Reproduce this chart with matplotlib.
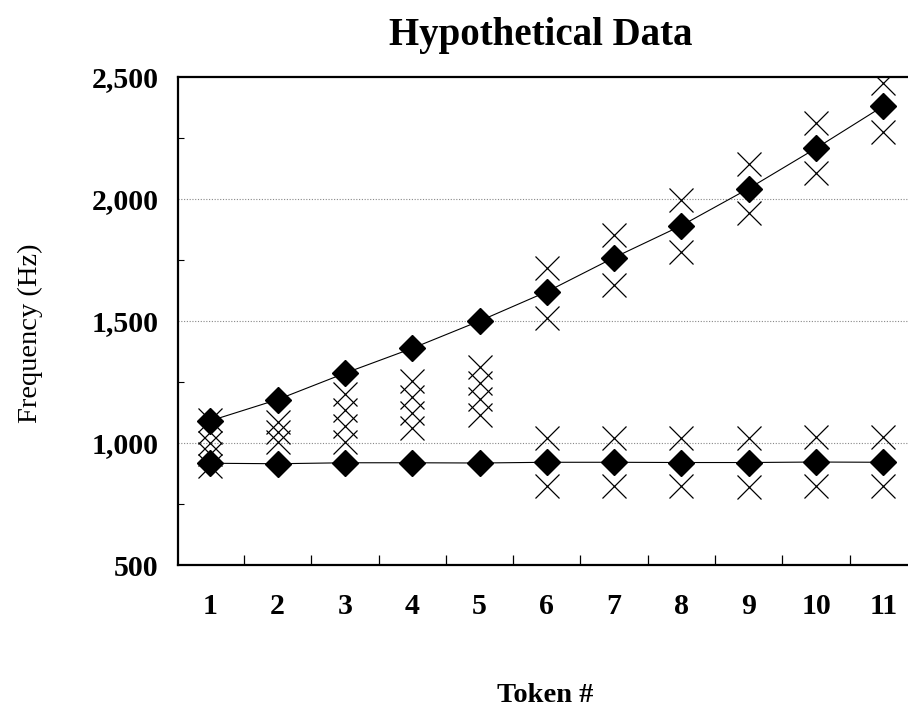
import numpy as np
import matplotlib
matplotlib.use("Agg")
import matplotlib.pyplot as plt
from matplotlib.ticker import FuncFormatter, MultipleLocator

# mean frequency per token (diamonds)
tokens = [1, 2, 3, 4, 5, 6, 7, 8, 9, 10, 11]
upper_mean = [1091, 1178, 1286, 1388, 1500, 1620, 1760, 1891, 2043, 2208, 2381]
lower_mean = [917, 915, 919, 919, 918, 921, 921, 920, 920, 922, 921]

# individual hypothetical observations (crosses), one list per token
obs = [
    [1095, 1045, 1000, 955, 906],
    [1085, 1045, 1005],
    [1200, 1135, 1070, 1006],
    [1255, 1190, 1125, 1060],
    [1310, 1245, 1180, 1115],
    [1717, 1512, 1020, 822],
    [1852, 1648, 1020, 822],
    [1996, 1784, 1020, 822],
    [2142, 1941, 1020, 818],
    [2310, 2105, 1025, 822],
    [2474, 2276, 1025, 822],
]

yticks = [500, 1000, 1500, 2000, 2500]

serif = ["Liberation Serif", "DejaVu Serif"]
plt.rcParams['font.family'] = serif

fig = plt.figure(figsize=(9.08, 7.08), dpi=100)
ax = fig.add_axes([178/908, 1-565/708, 739/908, 488/708])

for t, vals in zip(tokens, obs):
    ax.plot([t]*len(vals), vals, linestyle='none', marker='x', color='black',
            markersize=17, markeredgewidth=0.9, zorder=2)

ax.plot(tokens, upper_mean, color='black', linewidth=0.8, marker='D',
        markersize=13, zorder=3)
ax.plot(tokens, lower_mean, color='black', linewidth=0.8, marker='D',
        markersize=13, zorder=3)

ax.set_xlim(0.52, 11.5)
ax.set_ylim(500, 2500)

for g in [1000, 1500, 2000]:
    ax.axhline(g, color='#888888', linestyle=(0, (1, 1.5)), linewidth=0.8, zorder=1)

ax.set_yticks(yticks)
ax.yaxis.set_major_formatter(FuncFormatter(lambda v, p: f"{int(v):,}"))
ax.yaxis.set_minor_locator(MultipleLocator(250))
ax.tick_params(axis='y', which='major', length=0, pad=14, labelsize=21.5)
ax.tick_params(axis='y', which='minor', direction='in', length=4, width=0.8)

ax.set_xticks(tokens)
ax.set_xticklabels([str(t) for t in tokens])
ax.set_xticks([t + 0.5 for t in tokens[:-1]], minor=True)
ax.tick_params(axis='x', which='major', length=0, pad=20, labelsize=21.5)
ax.tick_params(axis='x', which='minor', direction='in', length=7, width=0.9)

for lab in ax.get_xticklabels() + ax.get_yticklabels():
    lab.set_fontweight('bold')

ax.spines['right'].set_visible(False)
for s in ['left', 'bottom', 'top']:
    ax.spines[s].set_linewidth(1.6)

fig.text(541/908, 1-35/708, "Hypothetical Data", ha='center', va='center',
         fontsize=28, fontweight='bold')
fig.text(30/908, 1-333/708, "Frequency (Hz)", ha='center', va='center',
         rotation=90, fontsize=20.5)
fig.text(545/908, 1-695/708, "Token #", ha='center', va='center',
         fontsize=20.5, fontweight='bold')

fig.savefig("out.png", dpi=100)
